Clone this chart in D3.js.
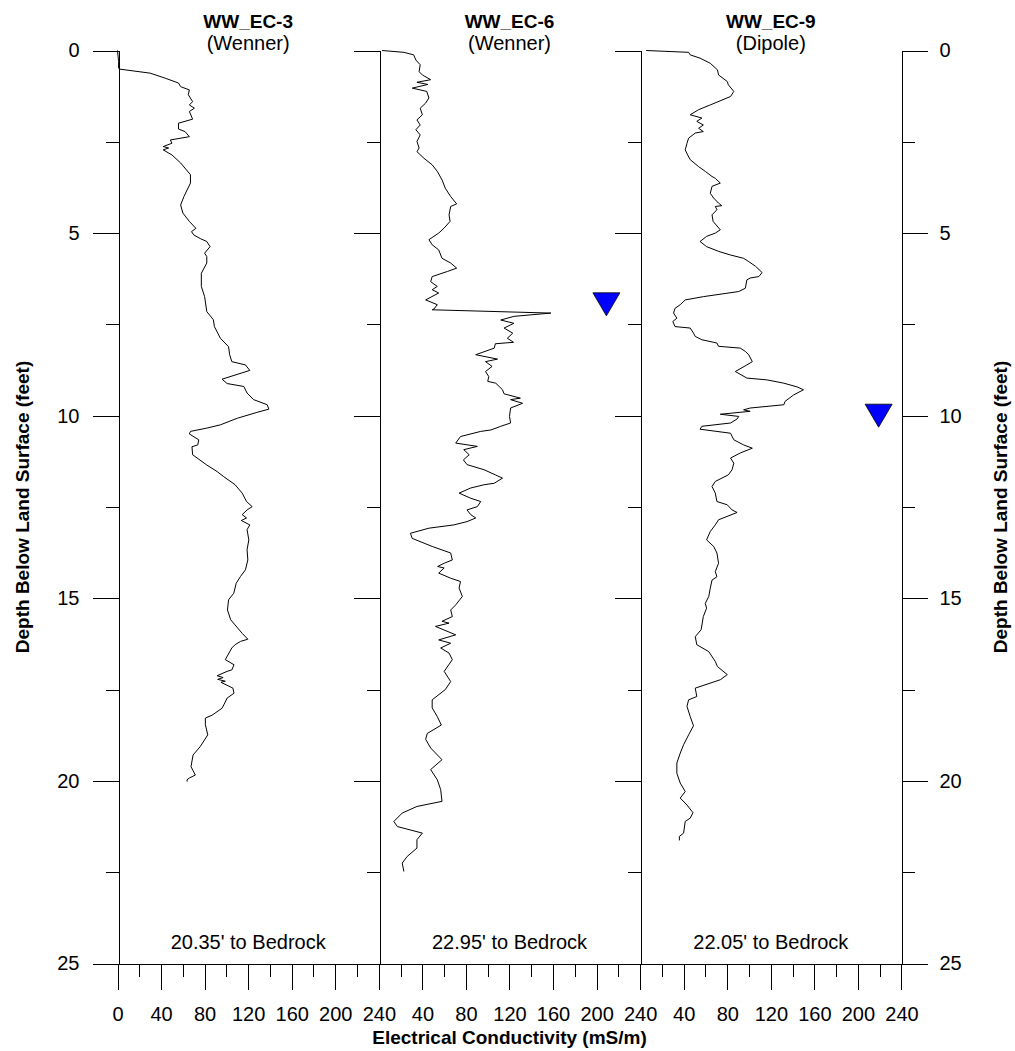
<!DOCTYPE html>
<html><head><meta charset="utf-8">
<script src="https://cdn.jsdelivr.net/npm/d3@7"></script>
<style>body{margin:0;background:#fff} svg{display:block;font-family:Arial,"Liberation Sans",sans-serif}</style>
</head><body>
<svg id="chart" width="1015" height="1051"></svg>
<script>
// ---- data ----
const wellNames = ["WW_EC-3", "WW_EC-6", "WW_EC-9"];
const methods = ["(Wenner)", "(Wenner)", "(Dipole)"];
const bedrockNotes = ["20.35' to Bedrock", "22.95' to Bedrock", "22.05' to Bedrock"];
const depthMajorTicks = [0, 5, 10, 15, 20, 25];
const depthMinorTicks = [2.5, 7.5, 12.5, 17.5, 22.5];
const ecMajorTicks = [0, 40, 80, 120, 160, 200, 240];
const ecMinorTicks = [20, 60, 100, 140, 180, 220];
// water level markers: [panel index, conductivity, depth]
const waterLevels = [[1, 209, 6.95], [2, 219, 10.0]];

// [depth (ft), conductivity (mS/m)]
const ec3 = [[0,0],[0.3,1],[0.48,1],[0.51,2],[0.62,30],[0.76,44],[0.89,56],[0.99,58],[1.08,66],[1.21,65],[1.4,69],[1.49,66],[1.58,70.6],[1.67,66],[1.88,69],[1.99,56],[2.15,56],[2.22,62],[2.36,66],[2.45,48.5],[2.54,50],[2.63,42],[2.67,47],[2.72,42],[2.86,50],[3.08,58],[3.4,67],[3.63,67],[4.0,61],[4.23,58],[4.45,60],[4.68,66],[4.87,72],[4.96,68],[5.05,70],[5.15,76],[5.23,82],[5.37,85],[5.55,80],[5.64,82],[5.82,82],[6.1,77],[6.46,77],[6.74,80],[7.15,82],[7.37,88],[7.56,89],[7.88,94.5],[8.11,102],[8.33,103],[8.52,105],[8.61,117.5],[8.76,121.5],[9.0,96],[9.12,100.7],[9.2,116],[9.38,119],[9.56,125],[9.7,137.5],[9.82,139],[9.91,128],[10.07,110],[10.25,94.5],[10.34,82],[10.43,67],[10.5,66],[10.66,74.6],[10.8,73.7],[10.85,68.4],[11.07,69],[11.35,82],[11.53,91.5],[11.67,97.6],[11.89,108],[12.12,114.5],[12.35,118.5],[12.49,123.7],[12.58,119],[12.71,114.5],[12.8,118.5],[12.87,113.7],[12.99,121.5],[13.12,119],[13.4,120.6],[13.67,119],[13.95,119.7],[14.22,117.5],[14.4,113],[14.59,109],[14.86,106.8],[15.04,102],[15.32,101],[15.59,104],[15.73,108],[15.96,114.5],[16.12,119.7],[16.18,113],[16.27,108],[16.36,105],[16.68,99],[16.82,107],[16.96,105],[17.0,100.7],[17.12,91.5],[17.17,97],[17.22,92],[17.27,99],[17.3,95],[17.46,106],[17.6,107],[17.73,100.7],[17.92,97.6],[18.01,96],[18.2,86.9],[18.28,80.7],[18.46,80.7],[18.74,82.9],[19.06,76],[19.29,69.4],[19.61,67.5],[19.84,71.5],[19.92,66],[19.97,63.8],[20.02,64]];
const ec6 = [[0,3],[0.05,23],[0.12,32],[0.26,34],[0.39,38],[0.58,37],[0.67,40],[0.8,47.6],[0.87,35],[0.93,45],[1.03,30.7],[1.12,44],[1.3,46],[1.44,43],[1.58,38],[1.76,40],[1.9,35],[2.04,38],[2.17,34],[2.31,38],[2.49,35],[2.67,37],[2.77,35],[2.95,41.4],[3.13,49],[3.31,53.7],[3.54,58],[3.77,61],[4.0,66],[4.2,71.5],[4.27,66],[4.5,64.5],[4.68,65.4],[4.86,60],[5.0,55],[5.18,46],[5.32,49],[5.46,55],[5.69,58],[5.82,66],[5.96,71.5],[6.05,63],[6.19,49],[6.33,47.6],[6.46,53.7],[6.55,49],[6.64,55],[6.83,43],[6.96,53.7],[7.08,50.6],[7.1,49],[7.19,158],[7.28,124],[7.38,112],[7.47,124],[7.6,115],[7.74,123],[7.88,118],[7.99,123.7],[8.03,107],[8.15,106],[8.33,89],[8.45,109],[8.52,98],[8.65,104],[8.79,98],[8.93,101],[9.06,100],[9.11,107.4],[9.29,113.6],[9.4,115],[9.52,130],[9.56,121],[9.66,132],[9.79,121],[10.02,120],[10.2,121],[10.29,112],[10.39,103],[10.43,93.6],[10.57,75],[10.75,70.6],[10.84,90.5],[10.93,78],[11.07,83],[11.21,77.7],[11.34,81],[11.48,96.7],[11.62,107],[11.71,113.6],[11.85,106],[11.89,96.7],[11.98,84.4],[12.12,73.7],[12.26,84.4],[12.35,93.6],[12.49,90.5],[12.58,81],[12.71,84.4],[12.8,89],[12.9,81],[12.99,69],[13.08,46],[13.22,29],[13.36,30.7],[13.58,49],[13.76,66],[13.95,67.5],[14.04,60],[14.13,54],[14.17,60],[14.31,55],[14.45,66],[14.54,75],[14.72,73.7],[14.95,76.7],[15.18,70.6],[15.32,66],[15.5,67.5],[15.63,58],[15.68,64.5],[15.77,52],[16.0,70.6],[16.14,55],[16.23,66],[16.36,56.8],[16.5,64.5],[16.68,67.5],[17.0,60],[17.28,66],[17.5,61],[17.78,49],[18.0,49],[18.24,53.7],[18.47,57.4],[18.7,44.5],[18.86,43],[19.1,47.6],[19.42,58],[19.69,47.6],[19.97,53.7],[20.24,56.8],[20.56,58],[20.7,35],[20.88,21.5],[21.11,13.8],[21.25,17],[21.43,40],[21.61,35],[21.84,35],[22.07,26],[22.25,21.5],[22.48,23]];
const ec9 = [[0,5.5],[0.05,44.5],[0.12,46],[0.21,55],[0.35,64.4],[0.53,71],[0.67,72],[0.85,80],[0.94,81],[1.12,86],[1.26,83],[1.49,64.4],[1.62,53.7],[1.76,46],[1.85,56.7],[1.94,52],[2.04,58],[2.13,53.7],[2.22,58],[2.26,50.6],[2.4,44.5],[2.54,43],[2.72,41.4],[2.86,43.6],[2.99,46],[3.18,53.7],[3.31,59.8],[3.45,66],[3.5,69],[3.63,73.6],[3.72,66],[3.91,64.4],[4.04,67.5],[4.18,72],[4.25,75],[4.27,69],[4.36,70.5],[4.5,66],[4.68,67],[4.91,73.6],[5.0,69],[5.09,61],[5.23,55],[5.37,61],[5.5,72],[5.6,83],[5.69,95],[5.78,99.7],[5.91,106],[6.08,112],[6.19,109],[6.23,101],[6.28,98],[6.51,96.6],[6.6,90.5],[6.74,58],[6.83,41.4],[6.96,36.8],[7.06,32],[7.19,30.7],[7.33,33.7],[7.42,30],[7.56,32],[7.6,46],[7.74,49],[7.83,50.6],[7.92,56.7],[8.01,70.5],[8.1,72],[8.15,92],[8.24,96.6],[8.33,99.7],[8.52,103],[8.61,98],[8.79,87.4],[8.97,98],[9.02,116.6],[9.11,132],[9.21,144],[9.29,150],[9.43,141],[9.61,133],[9.7,132],[9.79,101],[9.84,95],[9.88,101],[9.96,73.6],[10.02,90.5],[10.09,89],[10.2,83],[10.29,56.7],[10.37,55],[10.48,83],[10.66,86],[10.8,95],[10.89,103],[11.02,92],[11.16,83],[11.3,86],[11.48,84.4],[11.62,81],[11.8,69],[11.94,66],[12.12,69],[12.35,70.5],[12.44,80],[12.58,84.4],[12.65,89],[12.85,72],[12.99,69],[13.17,64.4],[13.4,61],[13.58,67.5],[13.76,70.5],[14.04,72],[14.27,69],[14.41,70.5],[14.5,66],[14.72,64.4],[14.95,63],[15.14,59.8],[15.27,61],[15.5,58],[15.86,56],[16.05,50.6],[16.27,52],[16.46,63],[16.73,69],[16.87,71],[17.09,80],[17.23,73.6],[17.46,50.6],[17.69,52],[17.78,44.5],[17.96,43],[18.24,46],[18.49,49],[18.74,44.5],[19.01,39.9],[19.24,36.8],[19.51,33.7],[19.79,33.7],[20.06,36.8],[20.29,41.4],[20.47,36.8],[20.66,43],[20.87,48.5],[21.02,46],[21.11,41.4],[21.43,39.9],[21.52,36],[21.63,36]];
const seriesList = [ec3, ec6, ec9];

// ---- layout ----
const svg = d3.select("#chart");
const x0 = 117.5, panelW = 261.33, yTop = 50.5, yBot = 963.5;
const y = d3.scaleLinear().domain([0, 25]).range([yTop, yBot]);
const xs = [0, 1, 2].map(i => d3.scaleLinear().domain([0, 240]).range([x0 + i * panelW, x0 + (i + 1) * panelW]));
const FONT = 'Arial, "Liberation Sans", sans-serif';

function styleAxis(g) {
  g.selectAll("path,line").attr("stroke", "#000").attr("stroke-width", 1).attr("shape-rendering", "crispEdges");
  g.selectAll("text").attr("fill", "#000").attr("font-family", FONT).attr("font-size", 20);
}

// vertical axes: ticks pointing left at each panel's left boundary
xs.forEach((xsc, i) => {
  const ax = Math.round(xsc(0)) + 0.5;
  const gMaj = svg.append("g").attr("transform", `translate(${ax},0)`)
    .call(d3.axisLeft(y).tickValues(depthMajorTicks).tickSize(26).tickSizeOuter(0).tickPadding(13)
      .tickFormat(i === 0 ? d3.format("d") : () => ""));
  styleAxis(gMaj);
  const gMin = svg.append("g").attr("transform", `translate(${ax},0)`)
    .call(d3.axisLeft(y).tickValues(depthMinorTicks).tickSize(13).tickSizeOuter(0).tickFormat(() => ""));
  styleAxis(gMin);
  gMin.select(".domain").remove();
});
// right axis
const rx = Math.round(xs[2](240)) + 0.5;
const gR = svg.append("g").attr("transform", `translate(${rx},0)`)
  .call(d3.axisRight(y).tickValues(depthMajorTicks).tickSize(26).tickSizeOuter(0).tickPadding(12).tickFormat(d3.format("d")));
styleAxis(gR);
const gR2 = svg.append("g").attr("transform", `translate(${rx},0)`)
  .call(d3.axisRight(y).tickValues(depthMinorTicks).tickSize(13).tickSizeOuter(0).tickFormat(() => ""));
styleAxis(gR2); gR2.select(".domain").remove();

// bottom axes
xs.forEach((xsc, i) => {
  const gB = svg.append("g").attr("transform", `translate(0,${yBot})`)
    .call(d3.axisBottom(xsc).tickValues(ecMajorTicks).tickSize(26).tickSizeOuter(0).tickPadding(17)
      .tickFormat(d => (i > 0 && d === 0) ? "" : d));
  styleAxis(gB);
  const gB2 = svg.append("g").attr("transform", `translate(0,${yBot})`)
    .call(d3.axisBottom(xsc).tickValues(ecMinorTicks).tickSize(13).tickSizeOuter(0).tickFormat(() => ""));
  styleAxis(gB2); gB2.select(".domain").remove();
});

// curves
const line = (xsc) => d3.line().x(d => xsc(d[1])).y(d => y(d[0]));
seriesList.forEach((s, i) => {
  svg.append("path").datum(s).attr("d", line(xs[i])).attr("fill", "none")
    .attr("stroke", "#000").attr("stroke-width", 1).attr("stroke-linejoin", "round");
});

// titles
xs.forEach((xsc, i) => {
  const cx = xsc(120);
  svg.append("text").attr("x", cx).attr("y", 28).attr("text-anchor", "middle")
    .attr("font-family", FONT).attr("font-weight", "bold").attr("font-size", 19).text(wellNames[i]);
  svg.append("text").attr("x", cx).attr("y", 50).attr("text-anchor", "middle")
    .attr("font-family", FONT).attr("font-size", 20).text(methods[i]);
  svg.append("text").attr("x", cx).attr("y", 949).attr("text-anchor", "middle")
    .attr("font-family", FONT).attr("font-size", 20).text(bedrockNotes[i]);
});

// water level triangles
waterLevels.forEach(([p, ec, d]) => {
  const cx = xs[p](ec), cy = y(d);
  svg.append("path")
    .attr("d", `M${cx - 13.5},${cy - 11.5}L${cx + 13.5},${cy - 11.5}L${cx},${cy + 11.5}Z`)
    .attr("fill", "#0000ff").attr("stroke", "#000").attr("stroke-width", 0.8);
});

// axis titles
svg.append("text").attr("x", xs[1](120)).attr("y", 1044).attr("text-anchor", "middle")
  .attr("font-family", FONT).attr("font-weight", "bold").attr("font-size", 19).text("Electrical Conductivity (mS/m)");
const ymid = (yTop + yBot) / 2;
svg.append("text").attr("transform", `translate(29,${ymid}) rotate(-90)`).attr("text-anchor", "middle")
  .attr("font-family", FONT).attr("font-weight", "bold").attr("font-size", 19).text("Depth Below Land Surface (feet)");
svg.append("text").attr("transform", `translate(1007,${ymid}) rotate(-90)`).attr("text-anchor", "middle")
  .attr("font-family", FONT).attr("font-weight", "bold").attr("font-size", 19).text("Depth Below Land Surface (feet)");
</script>
</body></html>
